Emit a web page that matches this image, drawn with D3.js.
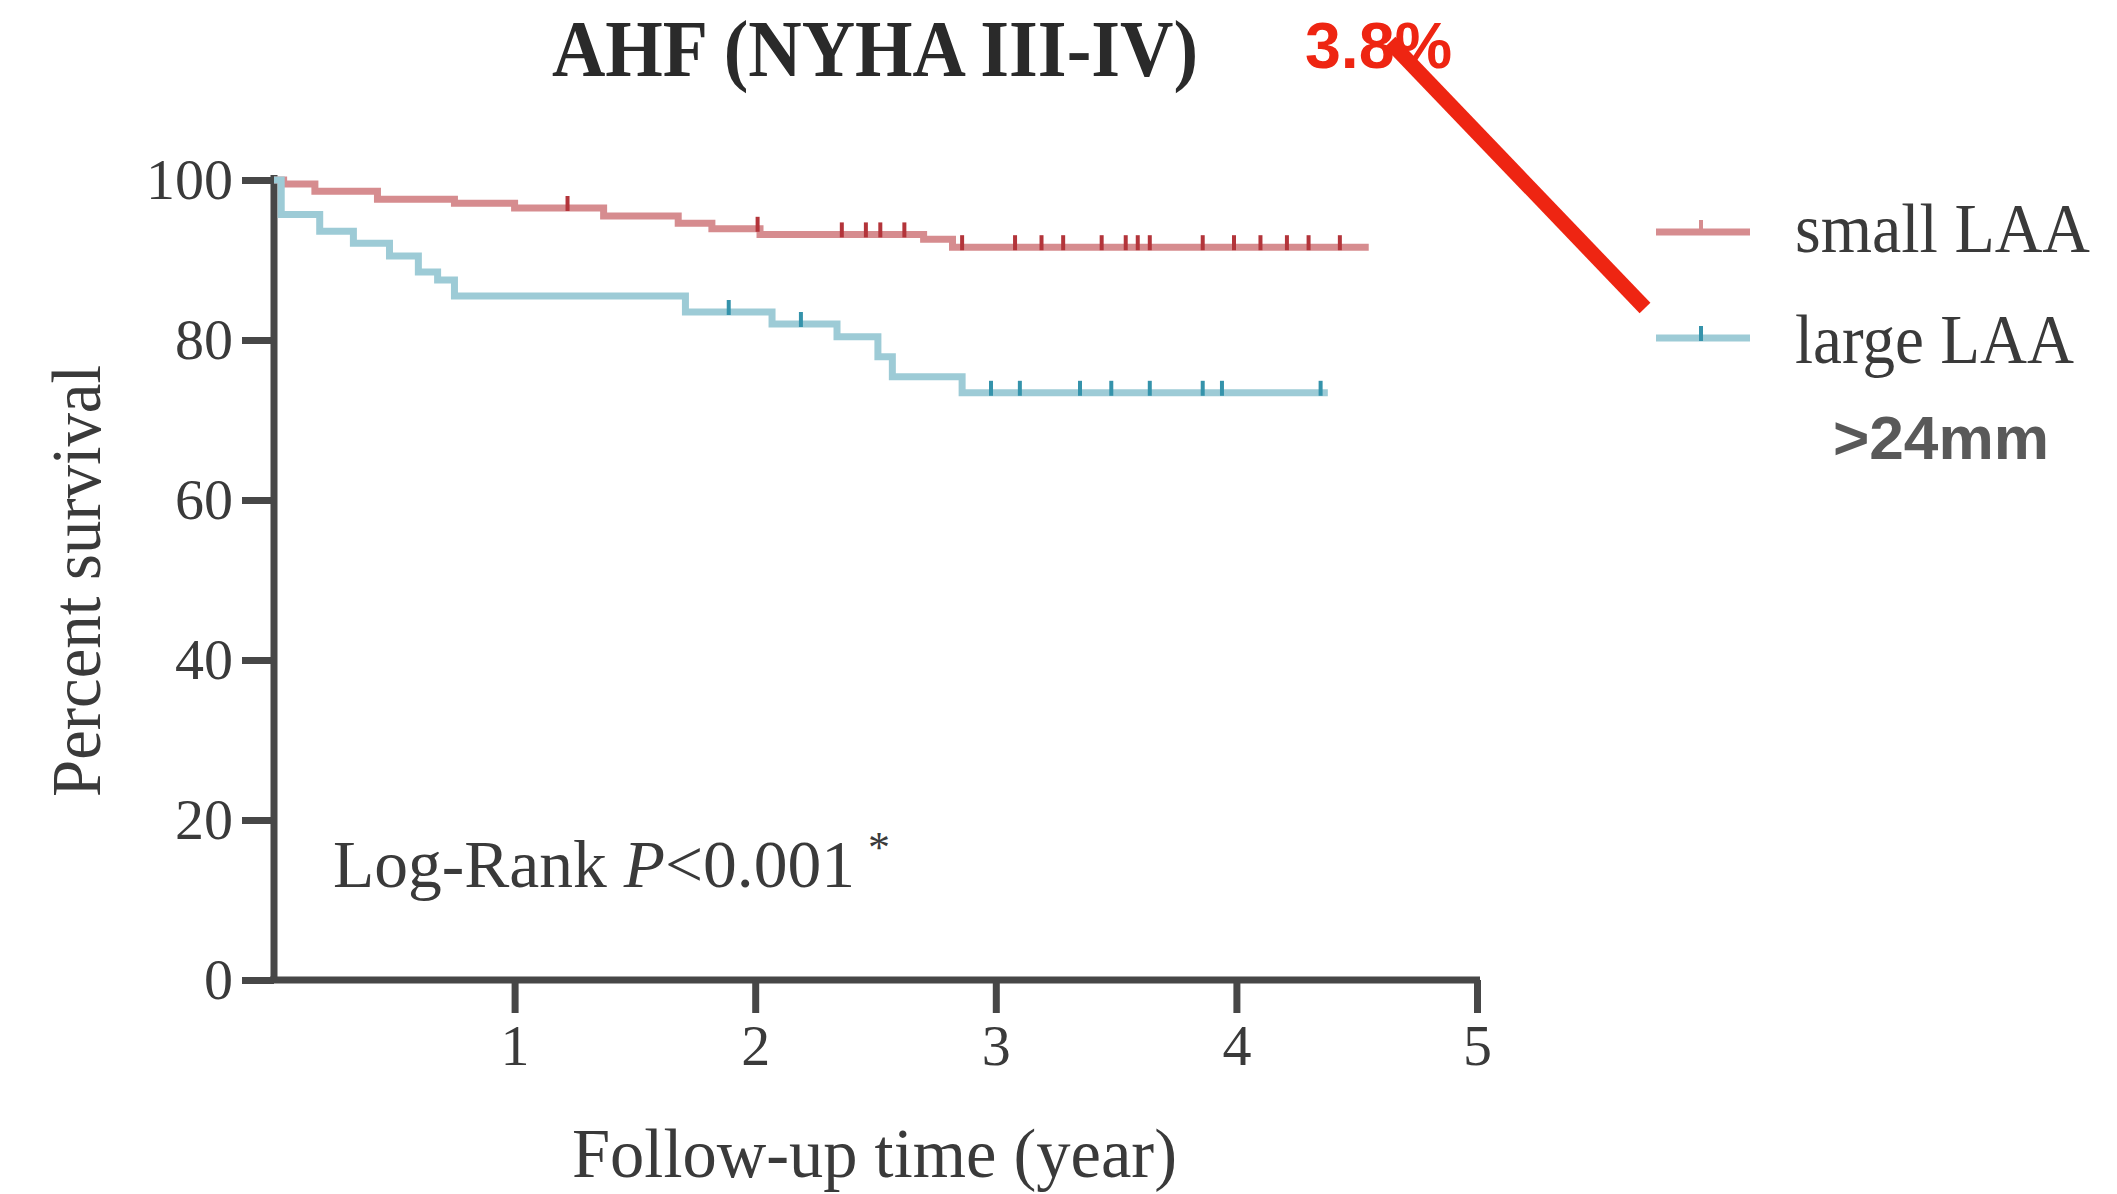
<!DOCTYPE html>
<html><head><meta charset="utf-8">
<script src="https://cdn.jsdelivr.net/npm/d3@7"></script>
<style>body{margin:0;background:#fff}</style></head>
<body>
<svg id="c" width="2117" height="1194"></svg>
<script>
// ---- data ----
const chartTitle = "AHF (NYHA III-IV)";
const xTicks = [1, 2, 3, 4, 5];
const yTicks = [0, 20, 40, 60, 80, 100];
const seriesNames = ["small LAA", "large LAA"];
const smallTime = [0, 0.04, 0.17, 0.43, 0.75, 1.0, 1.37, 1.68, 1.82, 2.02, 2.70, 2.82, 4.55];
const smallSurv = [100, 99.5, 98.6, 97.6, 97.1, 96.5, 95.5, 94.6, 93.9, 93.2, 92.6, 91.6, 91.6];
const largeTime = [0, 0.03, 0.19, 0.33, 0.48, 0.60, 0.68, 0.75, 1.71, 2.07, 2.34, 2.51, 2.57, 2.86, 4.38];
const largeSurv = [100, 95.7, 93.6, 92.1, 90.5, 88.5, 87.5, 85.5, 83.5, 82.0, 80.4, 77.9, 75.4, 73.4, 73.4];
const smallCensor = [1.22, 2.01, 2.36, 2.46, 2.52, 2.62, 2.86, 3.08, 3.19, 3.28, 3.44, 3.54, 3.59, 3.64, 3.86, 3.99, 4.10, 4.21, 4.30, 4.43];
const largeCensor = [1.89, 2.19, 2.98, 3.10, 3.35, 3.48, 3.64, 3.86, 3.94, 4.35];
const annotation = "3.8%";
const cutoffLabel = ">24mm";

// ---- layout ----
const svg = d3.select("#c");
const x = d3.scaleLinear().domain([0, 5]).range([274, 1477]);
const y = d3.scaleLinear().domain([0, 100]).range([980, 180]);
const axisColor = "#474747";
const textColor = "#3a3a3a";
const serif = "'Liberation Serif','Times New Roman',serif";
const sans = "'Liberation Sans',Arial,sans-serif";

const colors = {small: "#d68c8f", large: "#9dcbd6"};
const censorColors = {small: "#b3343a", large: "#3593ab"};

function stepVal(times, vals, t) {
  let v = vals[0];
  for (let i = 0; i < times.length; i++) if (times[i] <= t) v = vals[i];
  return v;
}

// axes
const yAxis = d3.axisLeft(y).tickValues(yTicks).tickFormat(d3.format("d"))
  .tickSize(32).tickSizeOuter(0).tickPadding(9);
const gy = svg.append("g").attr("transform", "translate(274,0)").call(yAxis);
const xAxis = d3.axisBottom(x).tickValues(xTicks).tickFormat(d3.format("d"))
  .tickSize(33).tickSizeOuter(0).tickPadding(10);
const gx = svg.append("g").attr("transform", "translate(0,980)").call(xAxis);
[gy, gx].forEach(g => {
  g.select(".domain").attr("stroke", axisColor).attr("stroke-width", 7);
  g.selectAll(".tick line").attr("stroke", axisColor).attr("stroke-width", 7);
  g.selectAll(".tick text").attr("fill", textColor).style("font-family", serif).style("font-size", "58px");
});
gx.selectAll(".tick text").attr("dy", "0.72em");
gy.select(".domain").attr("d", "M0,980V175");
gx.select(".domain").attr("d", "M270,0H1480");

// curves
const line = d3.line().curve(d3.curveStepAfter).x(d => x(d[0])).y(d => y(d[1]));
const smallPts = smallTime.map((t, i) => [t, smallSurv[i]]);
const largePts = largeTime.map((t, i) => [t, largeSurv[i]]);
svg.append("path").attr("d", line(smallPts)).attr("fill", "none")
  .attr("stroke", colors.small).attr("stroke-width", 7);
svg.append("path").attr("d", line(largePts)).attr("fill", "none")
  .attr("stroke", colors.large).attr("stroke-width", 7);

// censor marks
svg.append("g").selectAll("line").data(smallCensor).join("line")
  .attr("x1", d => x(d)).attr("x2", d => x(d))
  .attr("y1", d => y(stepVal(smallTime, smallSurv, d)) - 12)
  .attr("y2", d => y(stepVal(smallTime, smallSurv, d)) + 3)
  .attr("stroke", censorColors.small).attr("stroke-width", 4);
svg.append("g").selectAll("line").data(largeCensor).join("line")
  .attr("x1", d => x(d)).attr("x2", d => x(d))
  .attr("y1", d => y(stepVal(largeTime, largeSurv, d)) - 12)
  .attr("y2", d => y(stepVal(largeTime, largeSurv, d)) + 3)
  .attr("stroke", censorColors.large).attr("stroke-width", 4);

// title
svg.append("text").attr("x", 552).attr("y", 76)
  .attr("textLength", 646).attr("lengthAdjust", "spacingAndGlyphs")
  .style("font-family", serif).style("font-weight", "bold").style("font-size", "80px")
  .attr("fill", "#2a2a2a").text(chartTitle);

// axis titles
svg.append("text").attr("x", 572).attr("y", 1177)
  .attr("textLength", 605).attr("lengthAdjust", "spacingAndGlyphs")
  .style("font-family", serif).style("font-size", "70px").attr("fill", textColor)
  .text("Follow-up time (year)");
svg.append("text").attr("transform", "translate(100,797) rotate(-90)")
  .attr("textLength", 432).attr("lengthAdjust", "spacingAndGlyphs")
  .style("font-family", serif).style("font-size", "70px").attr("fill", textColor)
  .text("Percent survival");

// log-rank annotation
const lr = svg.append("text").attr("x", 333).attr("y", 887)
  .attr("textLength", 522).attr("lengthAdjust", "spacingAndGlyphs")
  .style("font-family", serif).style("font-size", "68px").attr("fill", textColor);
lr.append("tspan").text("Log-Rank ");
lr.append("tspan").style("font-style", "italic").text("P");
lr.append("tspan").text("<0.001");
svg.append("text").attr("x", 868).attr("y", 862)
  .style("font-family", serif).style("font-size", "44px").attr("fill", textColor).text("*");

// legend
const legY = [232, 338];
const legKeys = ["small", "large"];
legKeys.forEach((k, i) => {
  svg.append("line").attr("x1", 1656).attr("x2", 1750).attr("y1", legY[i]).attr("y2", legY[i])
    .attr("stroke", colors[k]).attr("stroke-width", 7);
  svg.append("line").attr("x1", 1701).attr("x2", 1701).attr("y1", legY[i] - 12).attr("y2", legY[i] + 3)
    .attr("stroke", k === "small" ? colors.small : censorColors.large).attr("stroke-width", 4);
});
svg.append("text").attr("x", 1795).attr("y", 252)
  .attr("textLength", 295).attr("lengthAdjust", "spacingAndGlyphs")
  .style("font-family", serif).style("font-size", "70px").attr("fill", textColor).text(seriesNames[0]);
svg.append("text").attr("x", 1795).attr("y", 363)
  .attr("textLength", 279).attr("lengthAdjust", "spacingAndGlyphs")
  .style("font-family", serif).style("font-size", "70px").attr("fill", textColor).text(seriesNames[1]);
svg.append("text").attr("x", 1833).attr("y", 459)
  .attr("textLength", 216).attr("lengthAdjust", "spacingAndGlyphs")
  .style("font-family", sans).style("font-weight", "bold").style("font-size", "62px")
  .attr("fill", "#595959").text(cutoffLabel);

// red annotation
svg.append("text").attr("x", 1305).attr("y", 68)
  .attr("textLength", 147).attr("lengthAdjust", "spacingAndGlyphs")
  .style("font-family", sans).style("font-weight", "bold").style("font-size", "64px")
  .attr("fill", "#ee2512").text(annotation);
svg.append("line").attr("x1", 1390).attr("y1", 42).attr("x2", 1645).attr("y2", 308)
  .attr("stroke", "#ee2512").attr("stroke-width", 15);
</script>
</body></html>
